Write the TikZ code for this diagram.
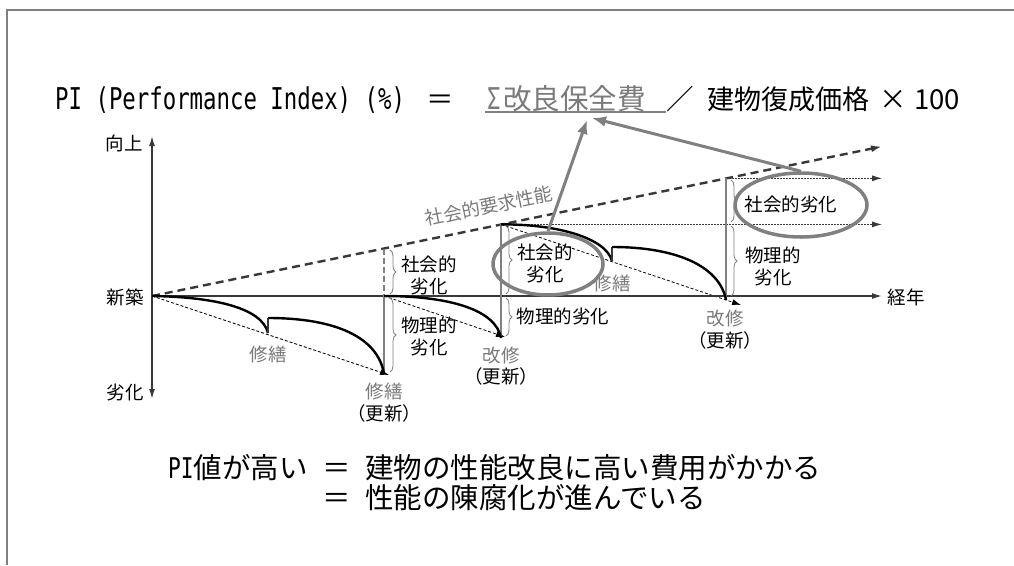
\documentclass[tikz,border=0pt]{standalone}
\usepackage{fontspec}
\setmainfont{Noto Sans CJK JP}
\newfontfamily\monoT[FakeStretch=0.745]{DejaVu Sans Mono}
\usetikzlibrary{arrows.meta,decorations.pathreplacing,shapes.geometric}
\definecolor{gline}{HTML}{808080}
\definecolor{glabel}{HTML}{7A7A7A}
\definecolor{dline}{HTML}{383838}
\begin{document}
\begin{tikzpicture}[x=1pt,y=-1pt,
  lbl/.style={font=\fontsize{18.5}{22}\selectfont, align=center, inner sep=0pt, text=black},
  glbl/.style={lbl, text=glabel},
  ttl/.style={font=\fontsize{27.5}{30}\selectfont, inner sep=0pt, anchor=base west},
  axisline/.style={line width=1.5pt, draw=dline, -{Latex[length=10pt,width=6pt]}},
  reqline/.style={line width=2.4pt, draw=dline, dash pattern=on 8pt off 5pt, -{Latex[length=11pt,width=7pt]}},
  trend/.style={line width=0.8pt, draw=black, dash pattern=on 3pt off 2pt, -{Latex[length=9pt,width=6pt]}},
  dotl/.style={line width=0.9pt, draw=dline, dash pattern=on 1.5pt off 1.5pt, -{Latex[length=10pt,width=6pt]}},
  gvert/.style={line width=2.6pt, draw=gline},
  curve/.style={line width=2.4pt, draw=black},
  brc/.style={draw=gline, line width=0.8pt, decorate, decoration={brace, amplitude=6pt}},
  ell/.style={ellipse, draw=gline, line width=3.5pt, inner sep=0pt},
  garrow/.style={draw=gline, line width=3pt, -{Latex[length=14pt,width=11pt]}}
]
\useasboundingbox (0,0) rectangle (1014,565);
\fill[white] (0,0) rectangle (1014,565);
% frame
\coordinate (fr1) at (7,565);
\coordinate (fr2) at (7,10);
\coordinate (fr3) at (1014,10);
\draw[gline, line width=2pt] (fr1) -- (fr2) -- (fr3);

% title
\node[inner sep=0pt, anchor=base west, font=\monoT\fontsize{30}{30}\selectfont] (t1) at (55,109) {PI (Performance Index) (\%)};
\node[ttl, anchor=base] (t2) at (440,109) {＝};
\node[inner sep=0pt, anchor=base west, text=glabel, font=\monoT\fontsize{30}{30}\selectfont] (t3) at (487,109) {Σ};
\node[ttl, text=glabel, font=\fontsize{28.5}{30}\selectfont] (t4) at (503,109) {改良保全費};
\coordinate (u1) at (485,112);
\coordinate (u2) at (666,112);
\draw[gline, line width=2pt] (u1) -- (u2);
\node[ttl, anchor=base] (t5) at (680,109) {／};
\node[ttl, font=\fontsize{27}{30}\selectfont] (t6) at (707,109) {建物復成価格};
\node[ttl, anchor=base] (t7) at (893,109) {×};
\node[ttl] (t8) at (914,109) {100};

% key coordinates
\coordinate (O) at (152,296);
\coordinate (Vtop) at (152,136);
\coordinate (Vbot) at (152,399);
\coordinate (Hend) at (882,296);
\coordinate (Dend) at (882,146.5);
\coordinate (P1) at (384,248.5);
\coordinate (P1a) at (384,296);
\coordinate (P1b) at (384,374);
\coordinate (P2) at (501,224.4);
\coordinate (P2a) at (501,296);
\coordinate (P2b) at (501,338);
\coordinate (P3) at (726,178.3);
\coordinate (P3m) at (726,224.4);
\coordinate (P3a) at (726,300);
\coordinate (Q1) at (882,224.4);
\coordinate (Q2) at (882,178.3);
\coordinate (T1) at (389,375);
\coordinate (T2) at (505,337);
\coordinate (T3) at (741,305);
\coordinate (R1) at (268,333);
\coordinate (R1t) at (268,318);
\coordinate (R2) at (612,261);
\coordinate (R2t) at (612,247);

% trend lines (physical)
\draw[trend] (O) -- (T1);
\draw[trend] (P1a) -- (T2);
\draw[trend] (P2) -- (T3);
% dotted horizontals
\draw[dotl] (P2) -- (Q1);
\draw[dotl] (P3) -- (Q2);

% axes
\draw[axisline] (O) -- (Vtop);
\draw[axisline] (O) -- (Vbot);
\draw[axisline] (O) -- (Hend);
% social requirement line
\draw[reqline] (O) -- (Dend);

% grey verticals
\draw[gvert, dash pattern=on 6pt off 3pt, line width=2pt] (P1) -- (P1a);
\draw[gvert] (P1a) -- (P1b);
\draw[gvert] (P2) -- (P2b);
\draw[gvert] (P3) -- (P3a);

% braces
\draw[brc] (390,250) -- (390,294);
\draw[brc] (390,298) -- (390,372);
\draw[brc] (506,226) -- (506,294);
\draw[brc] (506,298) -- (506,336);
\draw[brc] (731,180) -- (731,222);
\draw[brc] (731,226) -- (731,296);

% performance curves
\draw[curve] (O) .. controls (215,297) and (262,308) .. (R1);
\draw[line width=1.2pt, draw=dline] (R1) -- (R1t);
\draw[curve] (R1t) .. controls (335,318) and (378,337) .. (P1b);
\draw[curve] (P1a) .. controls (450,296) and (496,310) .. (P2b);
\draw[curve] (P2) .. controls (557,224) and (606,238) .. (R2);
\draw[line width=1.2pt, draw=dline] (R2) -- (R2t);
\draw[curve] (R2t) .. controls (680,247) and (720,268) .. (P3a);

% labels
\node[lbl] (a1) at (124,143) {向上};
\node[lbl] (a2) at (125,297) {新築};
\node[lbl] (a3) at (125,392) {劣化};
\node[lbl] (a4) at (906,297) {経年};
\node[glbl, rotate=11.6] (req) at (489,206) {社会的要求性能};

\node[lbl] (s1) at (429,275) {社会的\\劣化};
\node[lbl] (p1) at (429,336) {物理的\\劣化};
\node[lbl] (s2) at (545,263) {社会的\\劣化};
\node[lbl] (p2) at (563,316) {物理的劣化};
\node[lbl] (s3) at (791,204) {社会的劣化};
\node[lbl] (p3) at (773,266) {物理的\\劣化};

\node[glbl] (r1) at (268,354) {修繕};
\node[glbl] (r2) at (612,283) {修繕};
\node[lbl, text=glabel] (k1) at (384,391) {修繕};
\node[lbl] (k1b) at (384,413) {（更新）};
\node[lbl, text=glabel] (k2) at (501,355) {改修};
\node[lbl] (k2b) at (501,376) {（更新）};
\node[lbl, text=glabel] (k3) at (725,318) {改修};
\node[lbl] (k3b) at (725,340) {（更新）};

% ellipses
\node[ell, minimum width=110pt, minimum height=62pt] (E1) at (548,264) {};
\node[ell, minimum width=132pt, minimum height=64pt] (E2) at (801,205) {};
\coordinate (A1) at (587,120);
\coordinate (A2) at (592,118);
\draw[garrow] (E1.north) -- (A1);
\draw[garrow] (E2.north) -- (A2);

% bottom text
\node[ttl, font=\fontsize{28.5}{30}\selectfont] (b1) at (168,478) {{\monoT PI}値が高い};
\node[ttl, anchor=base, font=\fontsize{28.5}{30}\selectfont] (b2) at (337,478) {＝};
\node[ttl, font=\fontsize{28.5}{30}\selectfont] (b3) at (365,478) {建物の性能改良に高い費用がかかる};
\node[ttl, anchor=base, font=\fontsize{28.5}{30}\selectfont] (b4) at (337,508) {＝};
\node[ttl, font=\fontsize{28.5}{30}\selectfont] (b5) at (365,508) {性能の陳腐化が進んでいる};
\end{tikzpicture}
\end{document}
